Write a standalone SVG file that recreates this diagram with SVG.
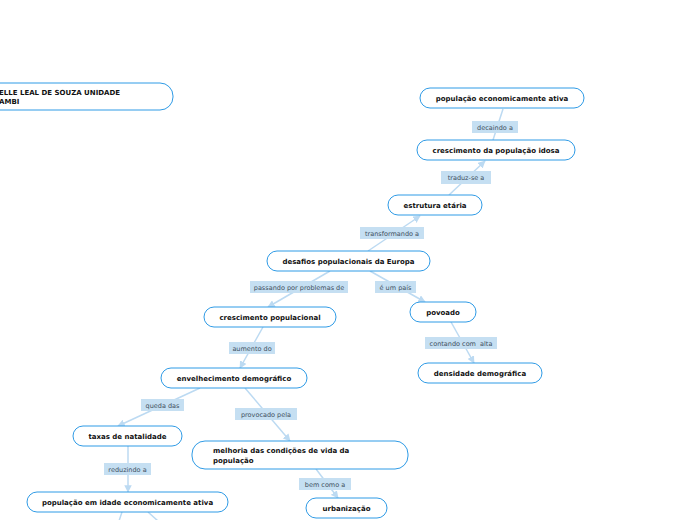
<svg xmlns="http://www.w3.org/2000/svg" width="696" height="520" viewBox="0 0 696 520">
<defs>
<style>
.n rect{fill:#fff;stroke:#2f9be6;stroke-width:1}
.n text{font-family:"DejaVu Sans",Verdana,sans-serif;font-weight:bold;font-size:7px;fill:#111;text-anchor:middle}
.n text.l{text-anchor:start}
.c line{stroke:#bcdaf2;stroke-width:1.5;fill:none}
.c line.a{marker-end:url(#ah)}
.lb rect{fill:#c5dff2}
.lb text{font-family:"DejaVu Sans",Verdana,sans-serif;font-size:6.5px;fill:#3e4f60;text-anchor:middle}
</style>
<marker id="ah" viewBox="0 0 10 10" refX="9" refY="5" markerWidth="5" markerHeight="5" orient="auto" markerUnits="strokeWidth">
<path d="M0,0 L10,5 L0,10 z" fill="#bcdaf2"/>
</marker>
</defs>
<rect width="696" height="520" fill="#fff"/>
<g id="connectors" class="c">
<line class="a" x1="368" y1="251" x2="420" y2="216"/>
<line class="a" x1="449" y1="195" x2="485" y2="161"/>
<line x1="493" y1="140" x2="503" y2="109"/>
<line class="a" x1="330" y1="271" x2="268" y2="307"/>
<line class="a" x1="370" y1="271" x2="425" y2="302"/>
<line class="a" x1="263" y1="327" x2="240" y2="368"/>
<line class="a" x1="451" y1="322" x2="474" y2="363"/>
<line class="a" x1="200" y1="388" x2="118" y2="426"/>
<line class="a" x1="245" y1="388" x2="290" y2="441"/>
<line class="a" x1="128" y1="446" x2="128" y2="492"/>
<line class="a" x1="316" y1="469" x2="338" y2="498"/>
<line x1="122" y1="512" x2="119" y2="521"/>
<line x1="148" y1="512" x2="158" y2="521"/>
</g>
<g id="labels">
<g class="lb"><rect x="360" y="227" width="64" height="12"/><text x="392" y="235.5">transformando a</text></g>
<g class="lb"><rect x="441" y="171" width="50" height="13"/><text x="466" y="180">traduz-se a</text></g>
<g class="lb"><rect x="472" y="121" width="46" height="12"/><text x="495" y="129.5">decaindo a</text></g>
<g class="lb"><rect x="250" y="281" width="98" height="12"/><text x="299" y="289.5">passando por problemas de</text></g>
<g class="lb"><rect x="375" y="281" width="41" height="12"/><text x="395.5" y="289.5">é um país</text></g>
<g class="lb"><rect x="229" y="342" width="46" height="12"/><text x="252" y="350.5">aumento do</text></g>
<g class="lb"><rect x="425" y="337" width="72" height="12"/><text x="461" y="345.5" xml:space="preserve">contando com  alta</text></g>
<g class="lb"><rect x="141" y="399" width="43" height="12"/><text x="162.5" y="407.5">queda das</text></g>
<g class="lb"><rect x="235" y="408" width="62" height="12"/><text x="266" y="416.5">provocado pela</text></g>
<g class="lb"><rect x="104" y="463" width="47" height="12"/><text x="127.5" y="471.5">reduzindo a</text></g>
<g class="lb"><rect x="299" y="478" width="52" height="12"/><text x="325" y="486.5">bem como a</text></g>
</g>
<g id="n-title" class="n"><rect x="-30" y="83" width="203" height="27" rx="13"/><text class="l" x="-1" y="94.5">ELLE LEAL DE SOUZA UNIDADE</text><text class="l" x="-1" y="103.5">AMBI</text></g>
<g id="n-pea" class="n"><rect x="420" y="88" width="164" height="20" rx="10"/><text x="502" y="100.5">população economicamente ativa</text></g>
<g id="n-idosa" class="n"><rect x="417" y="140" width="158" height="20" rx="10"/><text x="496" y="152.5">crescimento da população idosa</text></g>
<g id="n-estrutura" class="n"><rect x="388" y="195" width="94" height="20" rx="10"/><text x="435" y="207.5">estrutura etária</text></g>
<g id="n-desafios" class="n"><rect x="267" y="251" width="163" height="20" rx="10"/><text x="348.5" y="263.5">desafios populacionais da Europa</text></g>
<g id="n-cresc" class="n"><rect x="204" y="307" width="132" height="20" rx="10"/><text x="270" y="319.5">crescimento populacional</text></g>
<g id="n-povoado" class="n"><rect x="410" y="302" width="66" height="20" rx="10"/><text x="443" y="314.5">povoado</text></g>
<g id="n-densidade" class="n"><rect x="418" y="363" width="124" height="20" rx="10"/><text x="480" y="375.5">densidade demográfica</text></g>
<g id="n-envelhecimento" class="n"><rect x="161" y="368" width="146" height="20" rx="10"/><text x="234" y="380.5">envelhecimento demográfico</text></g>
<g id="n-taxas" class="n"><rect x="73" y="426" width="109" height="20" rx="10"/><text x="127.5" y="438.5">taxas de natalidade</text></g>
<g id="n-melhoria" class="n"><rect x="192" y="441" width="216" height="28" rx="13"/><text class="l" x="213" y="453">melhoria das condições de vida da</text><text class="l" x="213" y="462.5">população</text></g>
<g id="n-urbanizacao" class="n"><rect x="306" y="498" width="81" height="20" rx="10"/><text x="346.5" y="510.5">urbanização</text></g>
<g id="n-idade" class="n"><rect x="27" y="492" width="201" height="20" rx="10"/><text x="127.5" y="504.5">população em idade economicamente ativa</text></g>
</svg>
